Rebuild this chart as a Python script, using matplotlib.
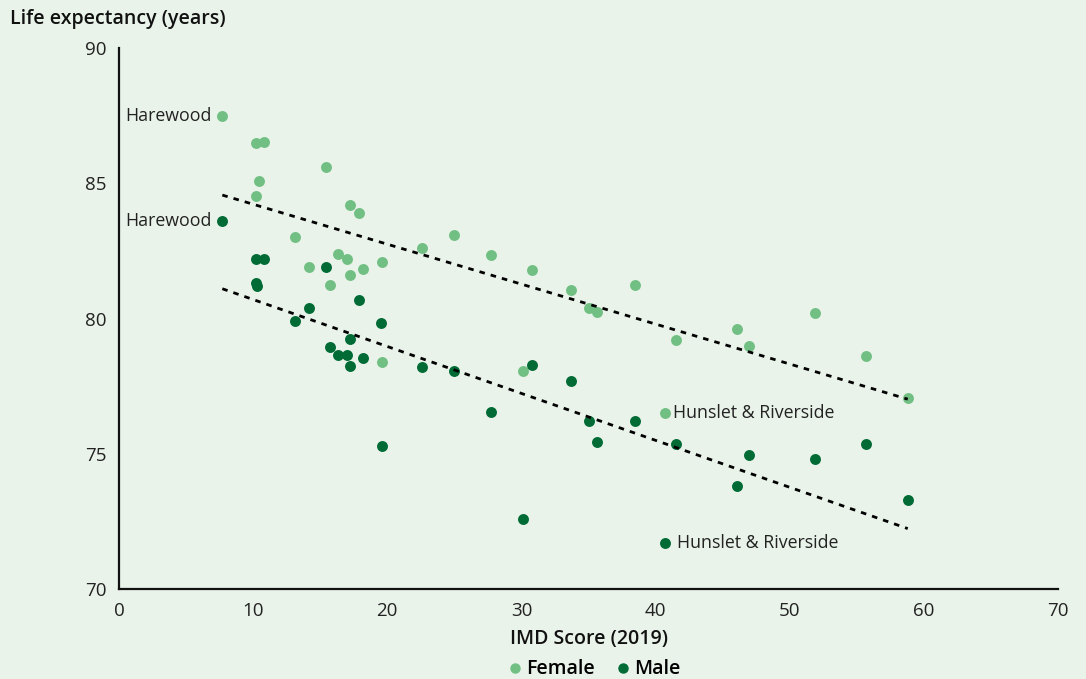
import numpy as np
import matplotlib.pyplot as plt

# Ward data: IMD score (2019) and life expectancy
female_imd = [7.7, 10.2, 10.8, 15.4, 10.4, 10.2, 17.2, 17.9, 13.1, 22.6, 25.0,
              16.3, 17.0, 19.6, 14.2, 18.2, 17.2, 15.7, 27.7, 30.8, 33.7, 38.5,
              35.0, 35.6, 41.5, 46.1, 47.0, 51.9, 55.7, 58.8, 40.7, 19.6, 30.1]
female_le = [87.5, 86.5, 86.55, 85.6, 85.1, 84.55, 84.2, 83.9, 83.0, 82.6, 83.1,
             82.4, 82.2, 82.1, 81.9, 81.85, 81.6, 81.25, 82.35, 81.8, 81.05, 81.25,
             80.4, 80.25, 79.2, 79.6, 79.0, 80.2, 78.6, 77.05, 76.5, 78.4, 78.05]

male_imd = [7.7, 10.2, 10.8, 10.2, 10.3, 15.4, 14.2, 17.9, 13.1, 19.5, 17.2,
            15.7, 16.3, 17.0, 18.2, 17.2, 19.6, 22.6, 25.0, 30.8, 27.7, 30.1,
            33.7, 35.0, 35.6, 38.5, 41.5, 47.0, 46.1, 51.9, 55.7, 58.8, 40.7]
male_le = [83.6, 82.2, 82.2, 81.3, 81.2, 81.9, 80.4, 80.7, 79.9, 79.85, 79.25,
           78.95, 78.65, 78.65, 78.55, 78.25, 75.3, 78.2, 78.05, 78.3, 76.55, 72.6,
           77.7, 76.2, 75.45, 76.2, 75.35, 74.95, 73.8, 74.8, 75.35, 73.3, 71.7]

female_col = '#72bf83'
male_col = '#006b35'
bg = '#e9f3ea'
txt = '#222222'

plt.rcParams['font.family'] = ['Open Sans', 'DejaVu Sans']

fig = plt.figure(figsize=(10.86, 6.79), dpi=100, facecolor=bg)
ax = fig.add_axes([0.1096, 0.1325, 0.8646, 0.7965])
ax.set_facecolor(bg)

ax.scatter(female_imd, female_le, s=62, color=female_col, zorder=2, linewidths=0)
ax.scatter(male_imd, male_le, s=62, color=male_col, zorder=2, linewidths=0)

# linear trend lines
for xs, ys in [(female_imd, female_le), (male_imd, male_le)]:
    m, c = np.polyfit(xs, ys, 1)
    xx = np.array([min(xs), max(xs)])
    ax.plot(xx, m * xx + c, color='black', lw=2, dashes=(2, 2.2), zorder=3)

# labels for the extreme wards
lab = dict(fontsize=12.8, color=txt, va='center')
ax.text(6.9, female_le[0], 'Harewood', ha='right', **lab)
ax.text(6.9, male_le[0], 'Harewood', ha='right', **lab)
ax.text(41.3, female_le[30], 'Hunslet & Riverside', ha='left', **lab)
ax.text(41.6, male_le[32], 'Hunslet & Riverside', ha='left', **lab)

ax.set_xlim(0, 70)
ax.set_ylim(70, 90)
ax.set_xticks(range(0, 71, 10))
ax.set_yticks(range(70, 91, 5))
ax.tick_params(length=0, labelsize=13.5, pad=9, colors=txt)
for s in ['top', 'right']:
    ax.spines[s].set_visible(False)
for s in ['left', 'bottom']:
    ax.spines[s].set_linewidth(1.6)
    ax.spines[s].set_color('#111111')

ax.set_xlabel('IMD Score (2019)', fontsize=14, fontweight='semibold', labelpad=7, color='#111111')
fig.text(0.009, 0.972, 'Life expectancy (years)', fontsize=14, fontweight='semibold',
         ha='left', va='center', color='#111111')

# legend
fig.legend(handles=[plt.Line2D([], [], marker='o', ls='', color=female_col, markersize=6.5, label='Female'),
                    plt.Line2D([], [], marker='o', ls='', color=male_col, markersize=6.5, label='Male')],
           loc='center', bbox_to_anchor=(0.545, 0.014), ncol=2, frameon=False,
           handletextpad=0.0, columnspacing=0.8, handlelength=1.2,
           prop={'weight': 'semibold', 'size': 14})

plt.savefig('out.png', dpi=100, facecolor=bg)
